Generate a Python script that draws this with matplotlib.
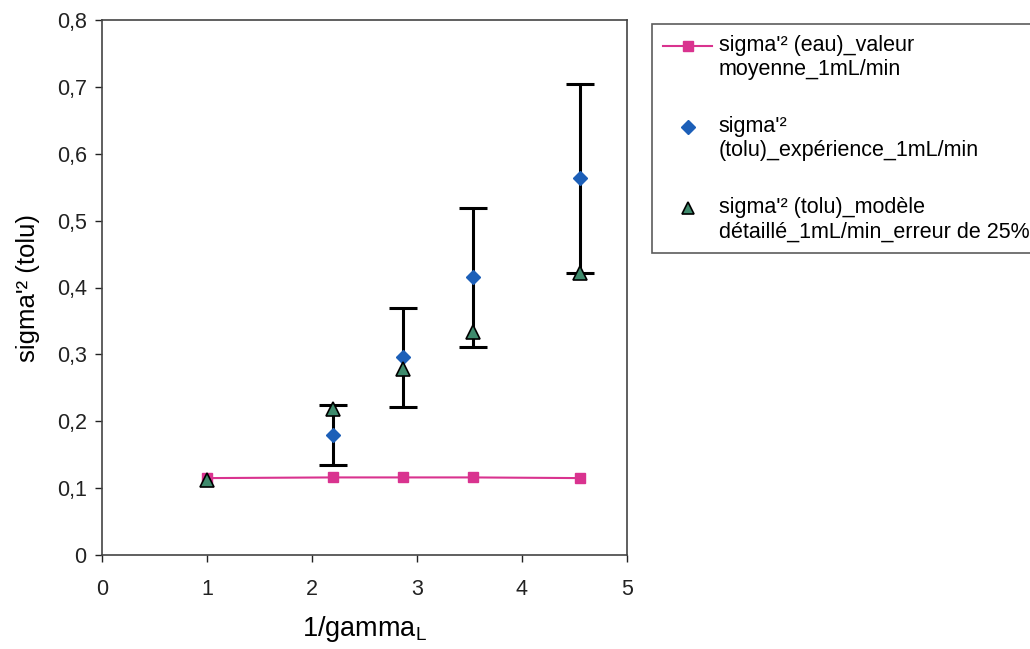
import matplotlib
matplotlib.use('Agg')
import matplotlib.pyplot as plt
from matplotlib.lines import Line2D
from matplotlib.legend_handler import HandlerLine2D

plt.rcParams['font.family'] = ['Liberation Sans', 'DejaVu Sans']

# data
x_eau = [1.0, 2.2, 2.87, 3.53, 4.55]
y_eau = [0.115, 0.116, 0.116, 0.116, 0.115]

x_exp = [2.2, 2.87, 3.53, 4.55]
y_exp = [0.180, 0.296, 0.415, 0.563]
err_exp = [0.045, 0.074, 0.104, 0.141]

x_mod = [1.0, 2.2, 2.87, 3.53, 4.55]
y_mod = [0.112, 0.218, 0.278, 0.333, 0.421]

xticks = [0, 1, 2, 3, 4, 5]
yticks = [0, 0.1, 0.2, 0.3, 0.4, 0.5, 0.6, 0.7, 0.8]
ytick_labels = ['0', '0,1', '0,2', '0,3', '0,4', '0,5', '0,6', '0,7', '0,8']

labels = ["sigma'\u00b2 (eau)_valeur\nmoyenne_1mL/min",
          "sigma'\u00b2\n(tolu)_exp\u00e9rience_1mL/min",
          "sigma'\u00b2 (tolu)_mod\u00e8le\nd\u00e9taill\u00e9_1mL/min_erreur de 25%"]

pink = '#d9338f'
blue = '#1c5fb8'
green = '#3e8a6c'


# legend handles sit on the first text line, like excel does
class FirstLineHandler(HandlerLine2D):
    def create_artists(self, legend, orig_handle, xdescent, ydescent,
                       width, height, fontsize, trans):
        return super().create_artists(legend, orig_handle, xdescent,
                                      ydescent - 17, width, height,
                                      fontsize, trans)


fig = plt.figure(figsize=(10.3, 6.49), dpi=100)
ax = fig.add_axes([102/1030, 1 - 555/649, 525/1030, 535/649])

ax.plot(x_eau, y_eau, color=pink, lw=1.5, marker='s', ms=7,
        mfc=pink, mec=pink, zorder=2)
ax.errorbar(x_exp, y_exp, yerr=err_exp, fmt='D', color=blue, ms=7,
            ecolor='black', elinewidth=2.2, capsize=10, capthick=2.2, zorder=3)
ax.plot(x_mod, y_mod, ls='none', marker='^', ms=10, mfc=green,
        mec='black', mew=1.2, zorder=4)

ax.set_xlim(0, 5)
ax.set_ylim(0, 0.8)
ax.set_xticks(xticks)
ax.set_yticks(yticks)
ax.set_yticklabels(ytick_labels)
ax.tick_params(direction='out', length=5, width=1, labelsize=15.5,
               colors='#222222')
ax.tick_params(axis='x', pad=12)
ax.tick_params(axis='y', pad=6)
for s in ax.spines.values():
    s.set_color('#444444')
    s.set_linewidth(1.2)

ax.set_xlabel('1/gamma$_\\mathregular{L}$', fontsize=19.5, labelpad=10)
ax.set_ylabel("sigma'\u00b2 (tolu)", fontsize=18.5, labelpad=12)

handles = [
    Line2D([], [], color=pink, lw=1.5, marker='s', ms=7, mfc=pink, mec=pink),
    Line2D([], [], ls='none', marker='D', ms=7, color=blue),
    Line2D([], [], ls='none', marker='^', ms=9, mfc=green, mec='black', mew=1.2),
]
leg = fig.legend(handles, labels, loc='upper left',
                 bbox_to_anchor=(652/1030, 1 - 24/649), fontsize=15.5,
                 frameon=True, fancybox=False, edgecolor='#333333',
                 handlelength=2.3, handletextpad=0.3, labelspacing=1.65,
                 borderpad=0.5, borderaxespad=0,
                 handler_map={Line2D: FirstLineHandler()})
leg.get_frame().set_linewidth(1.2)
for t in leg.get_texts():
    t.set_linespacing(1.22)

fig.savefig('out.png', dpi=100)
